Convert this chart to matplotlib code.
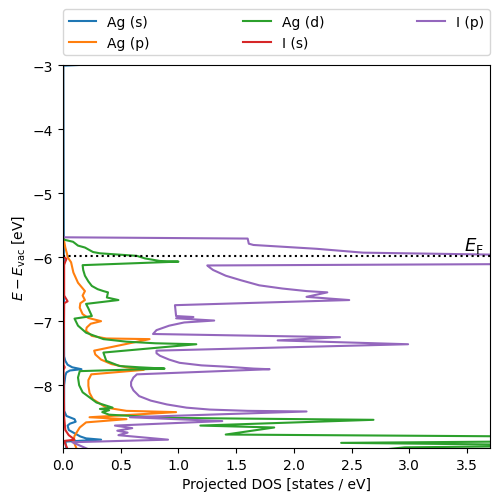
import matplotlib
matplotlib.use("Agg")
import matplotlib.pyplot as plt

### Projected DOS (energy in eV, DOS in states/eV)
E_F = -5.98

ag_s_E = [-3.0, -3.01, -7.55, -7.62, -7.68, -7.72, -7.75, -7.77, -7.80, -7.85, -8.0, -8.40, -8.48,
          -8.53, -8.57, -8.60, -8.63, -8.70, -8.75, -8.80, -8.83, -8.85, -8.88, -9.0]
ag_s_dos = [0.13, 0.003, 0.01, 0.02, 0.04, 0.08, 0.16, 0.06, 0.03, 0.02, 0.01, 0.01, 0.03,
            0.10, 0.11, 0.06, 0.04, 0.05, 0.10, 0.15, 0.20, 0.33, 0.02, 0.03]

ag_p_E = [-3.0, -5.70, -5.75, -5.85, -5.95, -6.0, -6.08, -6.24, -6.40, -6.53, -6.60, -6.67, -6.72,
          -6.79, -6.89, -6.95, -7.0, -7.04, -7.10, -7.15, -7.23, -7.27, -7.28, -7.46, -7.52, -7.60,
          -7.67, -7.72, -7.76, -7.83, -7.92, -8.01, -8.12, -8.22, -8.35, -8.40, -8.42, -8.50,
          -8.53, -8.58, -8.66, -8.79, -8.87, -9.0]
ag_p_dos = [0.0, 0.0, 0.01, 0.02, 0.035, 0.04, 0.07, 0.09, 0.13, 0.19, 0.17, 0.19, 0.15,
            0.145, 0.17, 0.22, 0.33, 0.24, 0.205, 0.20, 0.25, 0.375, 0.75, 0.27, 0.28, 0.33,
            0.42, 0.55, 0.70, 0.245, 0.22, 0.22, 0.23, 0.26, 0.375, 0.55, 0.98, 0.23,
            0.55, 0.20, 0.145, 0.10, 0.09, 0.12]

ag_d_E = [-3.0, -5.70, -5.73, -5.76, -5.82, -5.85, -5.92, -5.94, -5.98, -6.02, -6.06, -6.07, -6.125,
          -6.20, -6.29, -6.38, -6.45, -6.50, -6.53, -6.55, -6.63, -6.67, -6.73, -6.80, -6.88,
          -6.92, -6.96, -7.07, -7.18, -7.28, -7.32, -7.345, -7.36, -7.49, -7.62, -7.70, -7.72,
          -7.74, -7.78, -7.88, -8.0, -8.11, -8.27, -8.35, -8.37, -8.39, -8.42, -8.46, -8.51,
          -8.54, -8.63, -8.66, -8.77, -8.80, -8.84, -8.88, -8.90, -8.93, -8.945, -8.955,
          -8.97, -9.0]
ag_d_dos = [0.0, 0.0, 0.015, 0.087, 0.13, 0.19, 0.26, 0.32, 0.64, 0.71, 0.84, 1.0, 0.17,
            0.175, 0.19, 0.22, 0.25, 0.30, 0.35, 0.39, 0.38, 0.48, 0.20, 0.22, 0.24,
            0.25, 0.10, 0.13, 0.20, 0.35, 0.55, 0.80, 1.155, 0.35, 0.375, 0.49, 0.66,
            0.88, 0.145, 0.13, 0.14, 0.17, 0.29, 0.43, 0.32, 0.40, 0.34, 0.40, 0.90,
            2.69, 1.19, 1.83, 1.41, 4.0, 6.0, 3.8, 2.41, 4.0, 6.0, 3.8,
            2.96, 2.8]

i_s_E = [-3.0, -5.95, -6.0, -6.03, -6.07, -6.12, -6.60, -6.66, -6.69, -6.72, -7.68, -7.72, -7.76,
         -8.50, -8.70, -8.78, -8.82, -8.85, -8.87, -9.0]
i_s_dos = [0.0, 0.0, 0.01, 0.03, 0.02, 0.01, 0.01, 0.03, 0.04, 0.01, 0.005, 0.015, 0.005,
           0.01, 0.02, 0.05, 0.08, 0.10, 0.01, 0.04]

i_p_E = [-3.0, -5.69, -5.71, -5.79, -5.81, -5.87, -5.93, -5.96, -6.03, -6.11, -6.13, -6.16, -6.20,
         -6.29, -6.36, -6.44, -6.49, -6.53, -6.55, -6.62, -6.67, -6.75, -6.92, -6.935, -6.955,
         -6.99, -7.02, -7.07, -7.14, -7.20, -7.25, -7.30, -7.36, -7.46, -7.50, -7.54, -7.60,
         -7.65, -7.69, -7.71, -7.74, -7.75, -7.83, -7.88, -7.95, -8.01, -8.08, -8.17, -8.24,
         -8.30, -8.35, -8.38, -8.40, -8.41, -8.50, -8.56, -8.63, -8.67, -8.71, -8.74, -8.78,
         -8.85, -8.89, -9.0]
i_p_dos = [0.0, 0.0, 1.60, 1.61, 1.65, 2.2, 2.6, 3.7, 6.0, 3.7, 1.25, 1.27, 1.30,
           1.41, 1.54, 1.70, 1.90, 2.11, 2.29, 2.11, 2.48, 0.97, 0.98, 1.13, 0.98,
           1.31, 1.05, 0.92, 0.81, 0.78, 2.40, 1.86, 2.99, 0.81, 0.81, 0.84, 0.92,
           1.01, 1.20, 1.41, 1.65, 1.79, 0.64, 0.61, 0.59, 0.59, 0.61, 0.66, 0.76,
           0.90, 1.07, 1.27, 1.60, 2.11, 0.58, 1.38, 0.45, 0.60, 0.47, 0.56, 0.48,
           0.91, 0.08, 0.22]

labels = ['Ag (s)', 'Ag (p)', 'Ag (d)', 'I (s)', 'I (p)']
energies = [ag_s_E, ag_p_E, ag_d_E, i_s_E, i_p_E]
dos = [ag_s_dos, ag_p_dos, ag_d_dos, i_s_dos, i_p_dos]

fig = plt.figure(figsize=(4.98, 5.02), dpi=100)
ax = fig.add_axes([0.1265, 0.1056, 0.8575, 0.7629])

for name, e, d in zip(labels, energies, dos):
    ax.plot(d, e, label=name)

### Fermi level
ax.axhline(E_F, color='k', linestyle=':', linewidth=1.5)
ax.text(3.65, E_F + 0.02, r'$E_\mathrm{F}$', ha='right', va='bottom', fontsize=13)

ax.set_xlim(0, 3.7)
ax.set_ylim(-8.98, -3)
ax.set_xlabel('Projected DOS [states / eV]')
ax.set_ylabel(r'$E - E_\mathrm{vac}$ [eV]')
ax.legend(bbox_to_anchor=(0, 1.026, 1, 0.12), loc='lower left', mode='expand',
          ncol=3, borderaxespad=0)

fig.savefig('out.png', dpi=100)
